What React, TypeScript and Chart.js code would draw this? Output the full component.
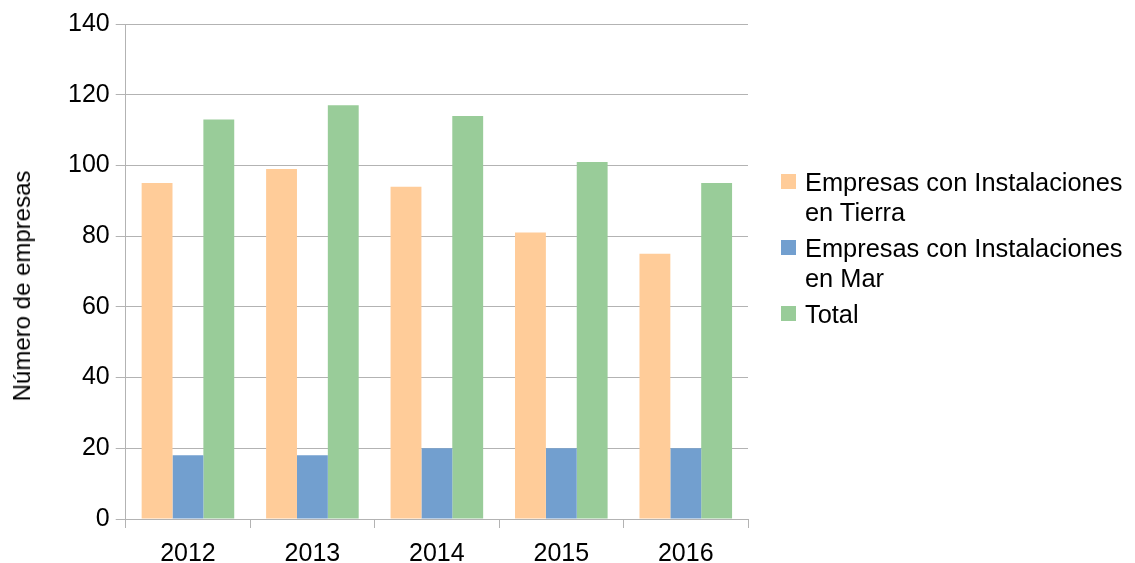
import React, { useEffect, useRef } from "react";
import { Chart, registerables } from "chart.js";

Chart.register(...registerables);

const years = ["2012", "2013", "2014", "2015", "2016"];
const tierra = [95, 99, 94, 81, 75];
const mar = [18, 18, 20, 20, 20];
const total = [113, 117, 114, 101, 95];
const seriesLabels = [
  "Empresas con Instalaciones en Tierra",
  "Empresas con Instalaciones en Mar",
  "Total",
];
const seriesColors = ["#ffcc99", "#729fcf", "#99cc99"];
const legendLines = [
  ["Empresas con Instalaciones", "en Tierra"],
  ["Empresas con Instalaciones", "en Mar"],
  ["Total"],
];
const yTitle = "Número de empresas";

const FONT = "'Liberation Sans', Arial, sans-serif";
const GRID = "#b3b3b3";

export default function App() {
  const ref = useRef<HTMLCanvasElement | null>(null);
  useEffect(() => {
    if (!ref.current) return;
    const chart = new Chart(ref.current, {
      type: "bar",
      data: {
        labels: years,
        datasets: [tierra, mar, total].map((d, i) => ({
          label: seriesLabels[i],
          data: d,
          backgroundColor: seriesColors[i],
          borderWidth: 0,
          barPercentage: 1,
          categoryPercentage: 0.744,
        })),
      },
      options: {
        animation: false,
        responsive: false,
        maintainAspectRatio: false,
        layout: { padding: { top: 24, right: 387, bottom: 0, left: 62 } },
        plugins: { legend: { display: false }, tooltip: { enabled: false } },
        scales: {
          x: {
            grid: {
              offset: true,
              drawOnChartArea: true,
              color: (ctx: any) => (ctx.index === years.length ? GRID : "rgba(0,0,0,0)"),
              tickColor: GRID,
              tickLength: 9,
            },
            border: { color: GRID },
            ticks: { color: "#000", font: { family: FONT, size: 25 }, padding: 11 },
          },
          y: {
            min: 0,
            max: 140,
            ticks: { stepSize: 20, color: "#000", font: { family: FONT, size: 25 }, padding: 6 },
            grid: { color: GRID, tickColor: GRID, tickLength: 10 },
            border: { color: GRID },
          },
        },
      },
    });
    return () => chart.destroy();
  }, []);
  return (
    <div
      style={{
        position: "fixed",
        left: 0,
        top: 0,
        width: 1135,
        height: 563,
        background: "#fff",
        overflow: "hidden",
      }}
    >
      <canvas ref={ref} width={1135} height={580} style={{ display: "block" }} />
      <div
        style={{
          position: "absolute",
          left: 22,
          top: 286,
          transform: "translate(-50%, -50%) rotate(-90deg)",
          fontFamily: FONT,
          fontSize: 24,
          color: "#000",
          whiteSpace: "nowrap",
          lineHeight: "28px",
        }}
      >
        {yTitle}
      </div>
      <div
        style={{
          position: "absolute",
          left: 781,
          top: 167,
          fontFamily: FONT,
          fontSize: 25.4,
          color: "#000",
        }}
      >
        {legendLines.map((lines, i) => (
          <div key={i} style={{ display: "flex", alignItems: "flex-start", marginBottom: 6 }}>
            <div
              style={{
                width: 15,
                height: 15,
                background: seriesColors[i],
                marginTop: 7,
                marginRight: 9,
                flex: "none",
              }}
            />
            <div style={{ lineHeight: "30px", whiteSpace: "nowrap" }}>
              {lines.map((l, j) => (
                <div key={j}>{l}</div>
              ))}
            </div>
          </div>
        ))}
      </div>
    </div>
  );
}
